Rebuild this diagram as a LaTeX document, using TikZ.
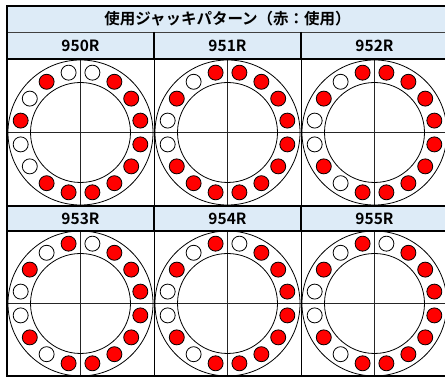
\documentclass[tikz,border=0pt]{standalone}
\usepackage{fontspec}
\usepackage{xcolor}
\usepackage{tikz}
\usetikzlibrary{positioning}
\newfontfamily\jpfont{Noto Sans CJK JP}[BoldFont={* Bold}]
\definecolor{headblue}{RGB}{221,235,247}
\definecolor{used}{RGB}{255,0,0}
\colorlet{free}{white}
\tikzset{
  ring/.style={black,line width=0.8pt},
  jack/.style={black,line width=0.8pt},
  cross/.style={black!85,line width=0.8pt},
  thickrule/.style={black,line width=1.6pt},
  head/.style={font=\jpfont\bfseries\fontsize{15.5}{16}\selectfont,inner sep=0pt},
}
% plate: centre x, centre y, fill of the 16 jacks clockwise from top right
\newcommand{\jackplate}[3]{%
  \draw[ring] (#1,#2) circle (72.5);
  \draw[ring] (#1,#2) circle (50);
  \foreach \c [count=\i] in {#3}
    \draw[jack,fill=\c] (#1,#2) ++({101.25-22.5*\i}:61) circle (7.5);
}

\begin{document}
\begin{tikzpicture}[x=1pt,y=1pt]
\clip (0,0) rectangle (445,379);
\fill[white] (0,0) rectangle (445,379);
% header bands
\fill[headblue] (7,320) rectangle (448,373);
\fill[headblue] (7,148) rectangle (448,173);
% cross lines
\foreach \y in {246.5,75.5} \draw[cross] (7,\y) -- (448,\y);
\foreach \x in {80.5,227.5,374.5} {
  \draw[cross] (\x,320) -- (\x,173);
  \draw[cross] (\x,148) -- (\x,3);
}
% jack plates
\jackplate{80.5}{246.5}{free,used,used,used,used,used,used,used,used,used,free,free,used,free,used,free}
\jackplate{227.5}{246.5}{used,used,used,used,used,used,used,used,used,used,used,free,free,used,free,used}
\jackplate{374.5}{246.5}{used,used,used,used,used,used,used,used,used,free,used,free,free,used,free,used}
\jackplate{80.5}{75.5}{free,used,used,used,used,used,used,used,used,free,used,free,free,used,free,used}
\jackplate{227.5}{75.5}{free,used,used,used,used,used,used,used,used,free,used,free,free,used,free,used}
\jackplate{374.5}{75.5}{free,used,used,used,used,used,used,used,used,free,used,free,free,used,free,used}
% table rules
\draw[black!75,line width=0.8pt] (7,347) -- (448,347);
\foreach \x in {154,301} {
  \draw[black,line width=0.9pt] (\x,320) -- (\x,173);
  \draw[black,line width=0.9pt] (\x,148) -- (\x,3);
  \draw[thickrule] (\x,347) -- (\x,320);
  \draw[thickrule] (\x,173) -- (\x,148);
}
\draw[thickrule] (7,320) -- (448,320);
\draw[thickrule] (7,173) -- (448,173);
\draw[black,line width=1.2pt] (7,148) -- (448,148);
\draw[thickrule] (448,373) -- (7,373) -- (7,3) -- (448,3);
% labels
\node[head] (title) at (227.5,360) {使用ジャッキパターン（赤：使用）};
\foreach \n/\x in {950R/80.5,951R/227.5,952R/374.5}
  \node[head] (h\n) at (\x,333.5) {\n};
\foreach \n/\x in {953R/80.5,954R/227.5,955R/374.5}
  \node[head] (h\n) at (\x,160.5) {\n};
\end{tikzpicture}
\end{document}
